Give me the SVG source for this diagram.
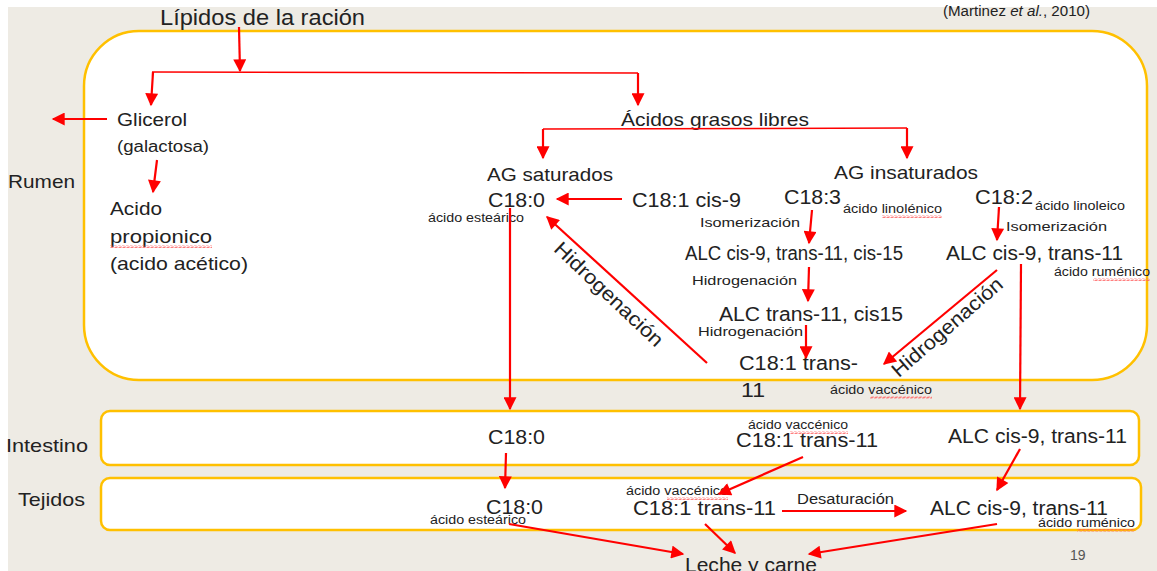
<svg xmlns="http://www.w3.org/2000/svg" width="1157" height="571" viewBox="0 0 1157 571">
<style>
text{font-family:"Liberation Sans",Arial,sans-serif;fill:#222;}
.m{font-size:20px;}
.n{font-size:19px;}
.s{font-size:13px;}
.xs{font-size:12.5px;}
.box{fill:#fff;stroke:#FFC000;stroke-width:2.5;}
.ar{stroke:#FF0000;stroke-width:2.2;fill:none;marker-end:url(#ah);}
.ln{stroke:#FF0000;stroke-width:1.5;fill:none;}
.sq{fill:url(#squig);}
</style>
<defs>
<marker id="ah" viewBox="0 0 10 10" refX="9" refY="5" markerWidth="15" markerHeight="13" markerUnits="userSpaceOnUse" orient="auto">
<path d="M0 0 L10 5 L0 10 Z" fill="#FF0000"/>
</marker>
<pattern id="squig" width="4" height="3" patternUnits="userSpaceOnUse">
<path d="M0 2.5 L1 0.5 L3 2.5 L4 0.5" stroke="#FF6060" stroke-width="0.8" fill="none"/>
</pattern>
</defs>
<rect x="0" y="0" width="1157" height="571" fill="#fff"/>
<rect x="8" y="7" width="1149" height="564" fill="#EEEBE4"/>

<g id="rumen-box"><rect class="box" x="84" y="31" width="1063" height="349" rx="55" ry="55"/></g>
<g id="intestino-box"><rect class="box" x="101" y="411" width="1038" height="54" rx="9" ry="9"/></g>
<g id="tejidos-box"><rect class="box" x="101" y="478" width="1040" height="52" rx="9" ry="9"/></g>

<g id="labels">
<text x="8" y="188" class="n" textLength="67" lengthAdjust="spacingAndGlyphs">Rumen</text>
<text x="6" y="452" class="n" textLength="82" lengthAdjust="spacingAndGlyphs">Intestino</text>
<text x="18" y="506" class="n" textLength="67" lengthAdjust="spacingAndGlyphs">Tejidos</text>
<text x="943" y="16" style="font-size:14px" fill="#333" textLength="147" lengthAdjust="spacingAndGlyphs">(Martinez <tspan font-style="italic">et al.</tspan>, 2010)</text>
<text x="1070" y="560" style="font-size:14px;fill:#555">19</text>
</g>

<g id="lipidos"><text x="160" y="25" style="font-size:22px" textLength="205" lengthAdjust="spacingAndGlyphs">Lípidos de la ración</text></g>
<g id="glicerol">
<text x="117" y="126" class="n" textLength="70" lengthAdjust="spacingAndGlyphs">Glicerol</text>
<text x="117" y="152" style="font-size:16px" textLength="92" lengthAdjust="spacingAndGlyphs">(galactosa)</text>
</g>
<g id="acido-propionico">
<text x="110" y="215" class="n" textLength="52" lengthAdjust="spacingAndGlyphs">Acido</text>
<text x="110" y="243" class="n" textLength="102" lengthAdjust="spacingAndGlyphs">propionico</text>
<text x="110" y="270" class="n" textLength="138" lengthAdjust="spacingAndGlyphs">(acido acético)</text>
</g>
<g id="agl"><text x="621" y="126" class="n" textLength="188" lengthAdjust="spacingAndGlyphs">Ácidos grasos libres</text></g>
<g id="ag-saturados"><text x="487" y="181" class="n" textLength="126" lengthAdjust="spacingAndGlyphs">AG saturados</text></g>
<g id="c180-rumen">
<text x="488" y="207" class="m" textLength="57" lengthAdjust="spacingAndGlyphs">C18:0</text>
<text x="428" y="222" class="xs" textLength="96" lengthAdjust="spacingAndGlyphs">ácido esteárico</text>
</g>
<g id="c181cis9"><text x="632" y="207" class="m" textLength="109" lengthAdjust="spacingAndGlyphs">C18:1 cis-9</text></g>
<g id="ag-insaturados"><text x="834" y="179" class="n" textLength="144" lengthAdjust="spacingAndGlyphs">AG insaturados</text></g>
<g id="c183">
<text x="784" y="204" class="m" textLength="57" lengthAdjust="spacingAndGlyphs">C18:3</text>
<text x="843" y="213" class="xs" textLength="99" lengthAdjust="spacingAndGlyphs">ácido linolénico</text>
</g>
<g id="c182">
<text x="975" y="204" class="m" textLength="58" lengthAdjust="spacingAndGlyphs">C18:2</text>
<text x="1035" y="210" class="xs" textLength="90" lengthAdjust="spacingAndGlyphs">ácido linoleico</text>
</g>
<g id="alc-9-11-15"><text x="685" y="260" class="m" textLength="218" lengthAdjust="spacingAndGlyphs">ALC cis-9, trans-11, cis-15</text></g>
<g id="alc-rumen">
<text x="946" y="260" class="m" textLength="177" lengthAdjust="spacingAndGlyphs">ALC cis-9, trans-11</text>
<text x="1054" y="276" class="xs" textLength="96" lengthAdjust="spacingAndGlyphs">ácido ruménico</text>
</g>
<g id="alc-11-15"><text x="719" y="321" class="m" textLength="184" lengthAdjust="spacingAndGlyphs">ALC trans-11, cis15</text></g>
<g id="c181t11-rumen">
<text x="739" y="370" class="m" textLength="119" lengthAdjust="spacingAndGlyphs">C18:1 trans-</text>
<text x="741" y="397" class="m" textLength="24" lengthAdjust="spacingAndGlyphs">11</text>
<text x="830" y="394" class="xs" textLength="102" lengthAdjust="spacingAndGlyphs">ácido vaccénico</text>
</g>
<g id="c180-int"><text x="488" y="444" class="m" textLength="57" lengthAdjust="spacingAndGlyphs">C18:0</text></g>
<g id="c181-int">
<text x="748" y="429" class="xs" textLength="100" lengthAdjust="spacingAndGlyphs">ácido vaccénico</text>
<text x="736" y="447" class="m" textLength="142" lengthAdjust="spacingAndGlyphs">C18:1 trans-11</text>
</g>
<g id="alc-int"><text x="948" y="443" class="m" textLength="179" lengthAdjust="spacingAndGlyphs">ALC cis-9, trans-11</text></g>
<g id="c180-tej">
<text x="486" y="514" class="m" textLength="57" lengthAdjust="spacingAndGlyphs">C18:0</text>
<text x="430" y="524" class="xs" textLength="96" lengthAdjust="spacingAndGlyphs">ácido esteárico</text>
</g>
<g id="c181-tej">
<text x="626" y="495" class="xs" textLength="102" lengthAdjust="spacingAndGlyphs">ácido vaccénico</text>
<text x="633" y="515" class="m" textLength="143" lengthAdjust="spacingAndGlyphs">C18:1 trans-11</text>
</g>
<g id="alc-tej">
<text x="930" y="515" class="m" textLength="178" lengthAdjust="spacingAndGlyphs">ALC cis-9, trans-11</text>
<text x="1038" y="527" class="xs" textLength="97" lengthAdjust="spacingAndGlyphs">ácido ruménico</text>
</g>
<g id="leche"><text x="685" y="572" class="m" textLength="132" lengthAdjust="spacingAndGlyphs">Leche y carne</text></g>

<g id="connectors">
<path class="ar" d="M239 27 L240 71"/>
<path class="ln" d="M152 72 L638 73"/>
<path class="ar" d="M153 72 L151 105"/>
<path class="ar" d="M638 73 L638 105"/>
<path class="ar" d="M107 119 L53 119"/>
<path class="ar" d="M157 160 L153 192"/>
<path class="ln" d="M543 129 L907 128"/>
<path class="ar" d="M543 129 L543 158"/>
<path class="ar" d="M907 128 L907 158"/>
<path class="ar" d="M622 199 L557 199"/>
<path class="ar" d="M510 208 L510 409"/>
<path class="ar" d="M707 363 L547 217"/>
<path class="ar" d="M997 270 L884 364"/>
<path class="ar" d="M1021 264 L1020 409"/>
<path class="ar" d="M812 210 L809 243"/>
<path class="ar" d="M999 207 L997 240"/>
<path class="ar" d="M809 267 L808 301"/>
<path class="ar" d="M806 325 L806 358"/>
<path class="ar" d="M506 453 L505 488"/>
<path class="ar" d="M803 457 L719 494"/>
<path class="ar" d="M1020 449 L997 490"/>
<path class="ar" d="M782 511 L906 511"/>
<path class="ar" d="M509 524 L683 554"/>
<path class="ar" d="M705 524 L735 553"/>
<path class="ar" d="M997 524 L809 554"/>
</g>

<g id="step-labels">
<text x="700" y="227" class="s" textLength="100" lengthAdjust="spacingAndGlyphs">Isomerización</text>
<text x="1006" y="231" class="s" textLength="101" lengthAdjust="spacingAndGlyphs">Isomerización</text>
<text x="692" y="285" class="s" textLength="105" lengthAdjust="spacingAndGlyphs">Hidrogenación</text>
<text x="698" y="336" class="s" textLength="105" lengthAdjust="spacingAndGlyphs">Hidrogenación</text>
<text x="797" y="504" style="font-size:14px" textLength="97" lengthAdjust="spacingAndGlyphs">Desaturación</text>
<text x="609" y="301" class="m" text-anchor="middle" transform="rotate(43.5 609 294)" textLength="142" lengthAdjust="spacingAndGlyphs">Hidrogenación</text>
<text x="947" y="334" class="m" text-anchor="middle" transform="rotate(-41 947 327)" textLength="140" lengthAdjust="spacingAndGlyphs">Hidrogenación</text>
</g>

<g id="spellcheck">
<rect class="sq" x="110" y="245" width="102" height="3"/>
<rect class="sq" x="882" y="215" width="60" height="3"/>
<rect class="sq" x="1093" y="278" width="57" height="3"/>
<rect class="sq" x="870" y="396" width="62" height="3"/>
<rect class="sq" x="790" y="431" width="58" height="3"/>
<rect class="sq" x="667" y="497" width="61" height="3"/>
<rect class="sq" x="1077" y="529" width="58" height="3"/>
</g>
</svg>
